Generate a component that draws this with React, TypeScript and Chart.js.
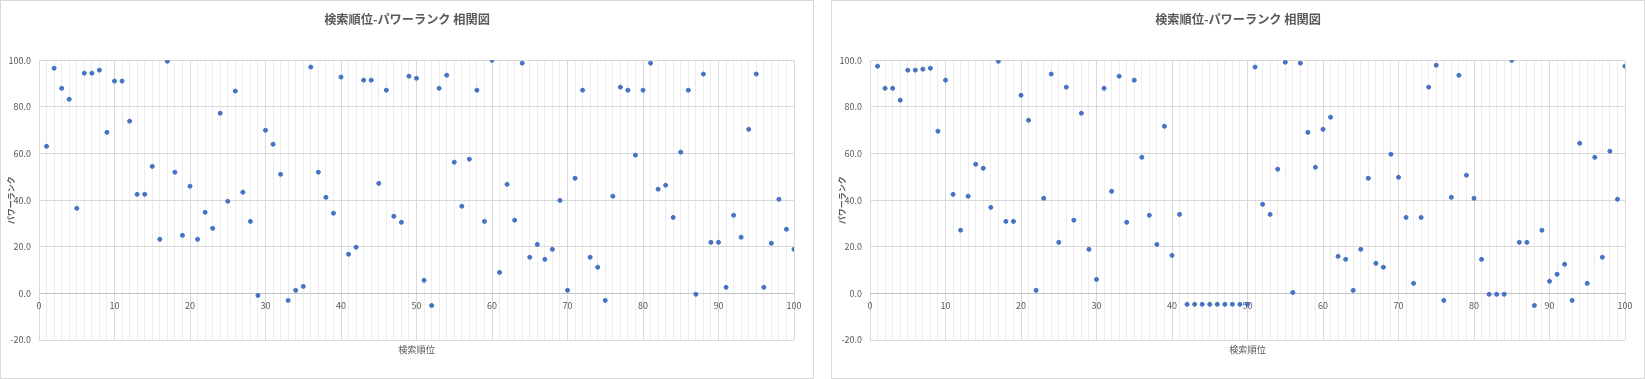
import React, { useEffect, useRef } from 'react';
import { Chart, registerables } from 'chart.js';

Chart.register(...registerables);

const FONT = '"Noto Sans CJK JP", "Noto Sans", sans-serif';
const TITLE = '検索順位-パワーランク 相関図';
const X_TITLE = '検索順位';
const Y_TITLE = 'パワーランク';

const RANKS = [
  1, 2, 3, 4, 5, 6, 7, 8, 9, 10,
  11, 12, 13, 14, 15, 16, 17, 18, 19, 20,
  21, 22, 23, 24, 25, 26, 27, 28, 29, 30,
  31, 32, 33, 34, 35, 36, 37, 38, 39, 40,
  41, 42, 43, 44, 45, 46, 47, 48, 49, 50,
  51, 52, 53, 54, 55, 56, 57, 58, 59, 60,
  61, 62, 63, 64, 65, 66, 67, 68, 69, 70,
  71, 72, 73, 74, 75, 76, 77, 78, 79, 80,
  81, 82, 83, 84, 85, 86, 87, 88, 89, 90,
  91, 92, 93, 94, 95, 96, 97, 98, 99, 100,
];

const LEFT_POWER = [
  63.1, 96.6, 88.0, 83.3, 36.5, 94.5, 94.5, 95.8, 69.1, 91.1,
  91.1, 73.9, 42.5, 42.5, 54.5, 23.2, 99.6, 52.0, 24.9, 46.0,
  23.2, 34.8, 27.9, 77.3, 39.5, 86.8, 43.4, 30.9, -0.9, 70.0,
  64.0, 51.1, -3.0, 1.3, 3.0, 97.1, 52.0, 41.2, 34.4, 92.8,
  16.8, 19.8, 91.5, 91.5, 47.2, 87.2, 33.1, 30.5, 93.2, 92.3,
  5.6, -5.2, 88.0, 93.6, 56.3, 37.4, 57.6, 87.2, 30.9, 100.0,
  9.0, 46.8, 31.4, 98.8, 15.5, 21.0, 14.6, 18.9, 39.9, 1.3,
  49.4, 87.2, 15.5, 11.2, -3.0, 41.7, 88.5, 87.2, 59.3, 87.2,
  98.8, 44.7, 46.4, 32.6, 60.6, 87.2, -0.4, 94.1, 21.9, 21.9,
  2.6, 33.5, 24.1, 70.4, 94.1, 2.6, 21.5, 40.4, 27.5, 18.9,
];

const RIGHT_POWER = [
  97.5, 88.0, 88.0, 82.9, 95.8, 95.8, 96.2, 96.6, 69.6, 91.5,
  42.5, 27.1, 41.7, 55.4, 53.7, 36.9, 99.6, 30.9, 30.9, 85.0,
  74.3, 1.3, 40.8, 94.1, 21.9, 88.5, 31.4, 77.3, 18.9, 6.0,
  88.0, 43.8, 93.2, 30.5, 91.5, 58.4, 33.5, 21.0, 71.7, 16.3,
  33.9, -4.7, -4.7, -4.7, -4.7, -4.7, -4.7, -4.7, -4.7, -4.7,
  97.1, 38.2, 33.9, 53.3, 99.2, 0.4, 98.8, 69.1, 54.1, 70.4,
  75.6, 15.9, 14.6, 1.3, 18.9, 49.4, 12.9, 11.2, 59.7, 49.8,
  32.6, 4.3, 32.6, 88.5, 97.9, -3.0, 41.2, 93.6, 50.7, 40.8,
  14.6, -0.4, -0.4, -0.4, 100.0, 21.9, 21.9, -5.2, 27.1, 5.2,
  8.2, 12.5, -3.0, 64.4, 4.3, 58.4, 15.5, 61.0, 40.4, 97.5,
];

const X_MIN = 0;
const X_MAX = 100;
const X_LABEL_EVERY = 10;
const Y_MIN = -20;
const Y_MAX = 100;
const Y_STEP = 20;

const TEXT = '#595959';
const MARKER = '#4472C4';

const CANVAS_W = 812;
const CANVAS_H = 377;

function ScatterPanel({ values, left }: { values: number[]; left: number }) {
  const ref = useRef<HTMLCanvasElement | null>(null);

  useEffect(() => {
    if (!ref.current) return;
    const points = RANKS.map((r, i) => ({ x: r, y: values[i] }));
    const chart = new Chart(ref.current, {
      type: 'scatter',
      data: {
        datasets: [
          {
            data: points,
            xAxisID: 'x',
            yAxisID: 'y',
            showLine: false,
            pointRadius: 2,
            pointHoverRadius: 2,
            pointBorderWidth: 1,
            pointBackgroundColor: MARKER,
            pointBorderColor: MARKER,
          },
        ],
      },
      options: {
        animation: false,
        responsive: false,
        devicePixelRatio: 1,
        layout: { padding: 0 },
        events: [],
        plugins: {
          legend: { display: false },
          tooltip: { enabled: false },
          title: {
            display: true,
            text: TITLE,
            color: TEXT,
            font: { family: FONT, size: 12.2, weight: 'bold', lineHeight: 1.2 },
            padding: { top: 10.7, bottom: 34 },
          },
        },
        scales: {
          x: {
            type: 'linear',
            position: { y: 0 },
            min: X_MIN,
            max: X_MAX,
            afterFit: (s: any) => {
              s.height = 0;
            },
            ticks: {
              stepSize: 1,
              autoSkip: false,
              maxRotation: 0,
              minRotation: 0,
              padding: 6.5,
              color: TEXT,
              font: { family: FONT, size: 9 },
              callback: (v: any) => (Number(v) % X_LABEL_EVERY === 0 ? String(v) : ''),
            },
            grid: {
              drawTicks: false,
              lineWidth: 1,
              color: (ctx: any) =>
                ctx.tick && ctx.tick.value % X_LABEL_EVERY === 0 ? '#d9d9d9' : '#ececec',
            },
            border: { display: true, color: '#c4c4c4', width: 1 },
            title: { display: false },
          },
          xTitle: {
            type: 'linear',
            axis: 'x',
            position: 'bottom',
            min: X_MIN,
            max: X_MAX,
            afterFit: (s: any) => {
              s.height = 38;
            },
            grid: { display: false, drawTicks: false },
            ticks: { display: false },
            border: { display: false },
            title: {
              display: true,
              text: X_TITLE,
              color: TEXT,
              font: { family: FONT, size: 9.2, lineHeight: 1.2 },
              padding: { top: 0, bottom: 22.5 },
            },
          },
          y: {
            type: 'linear',
            position: 'left',
            min: Y_MIN,
            max: Y_MAX,
            afterFit: (s: any) => {
              s.width = 38;
            },
            ticks: {
              stepSize: Y_STEP,
              padding: 8,
              color: TEXT,
              font: { family: FONT, size: 9 },
              callback: (v: any) => Number(v).toFixed(1),
            },
            grid: {
              drawTicks: false,
              lineWidth: 1,
              color: (ctx: any) => (ctx.tick && ctx.tick.value === 0 ? '#c4c4c4' : '#d9d9d9'),
            },
            border: { display: false },
            title: {
              display: true,
              text: Y_TITLE,
              color: TEXT,
              font: { family: FONT, size: 8, weight: 'bold', lineHeight: 1.2 },
              padding: { top: 5, bottom: 0 },
            },
          },
          yRight: {
            type: 'linear',
            axis: 'y',
            position: 'right',
            min: Y_MIN,
            max: Y_MAX,
            afterFit: (s: any) => {
              s.width = 19;
            },
            grid: { display: false, drawTicks: false },
            ticks: { display: false },
            border: { display: false },
          },
        },
      } as any,
    });
    return () => chart.destroy();
  }, [values]);

  return (
    <div
      style={{
        position: 'absolute',
        left,
        top: 0,
        width: 814,
        height: 379,
        boxSizing: 'border-box',
        border: '1px solid #d9d9d9',
        background: '#ffffff',
      }}
    >
      <canvas
        ref={ref}
        width={CANVAS_W}
        height={CANVAS_H}
        style={{ display: 'block', width: CANVAS_W, height: CANVAS_H }}
      />
    </div>
  );
}

export default function App() {
  useEffect(() => {
    document.body.style.margin = '0';
    document.body.style.background = '#ffffff';
  }, []);
  return (
    <div
      style={{
        position: 'absolute',
        left: 0,
        top: 0,
        width: 1645,
        height: 379,
        background: '#ffffff',
        overflow: 'hidden',
      }}
    >
      <ScatterPanel values={LEFT_POWER} left={0} />
      <ScatterPanel values={RIGHT_POWER} left={831} />
    </div>
  );
}
